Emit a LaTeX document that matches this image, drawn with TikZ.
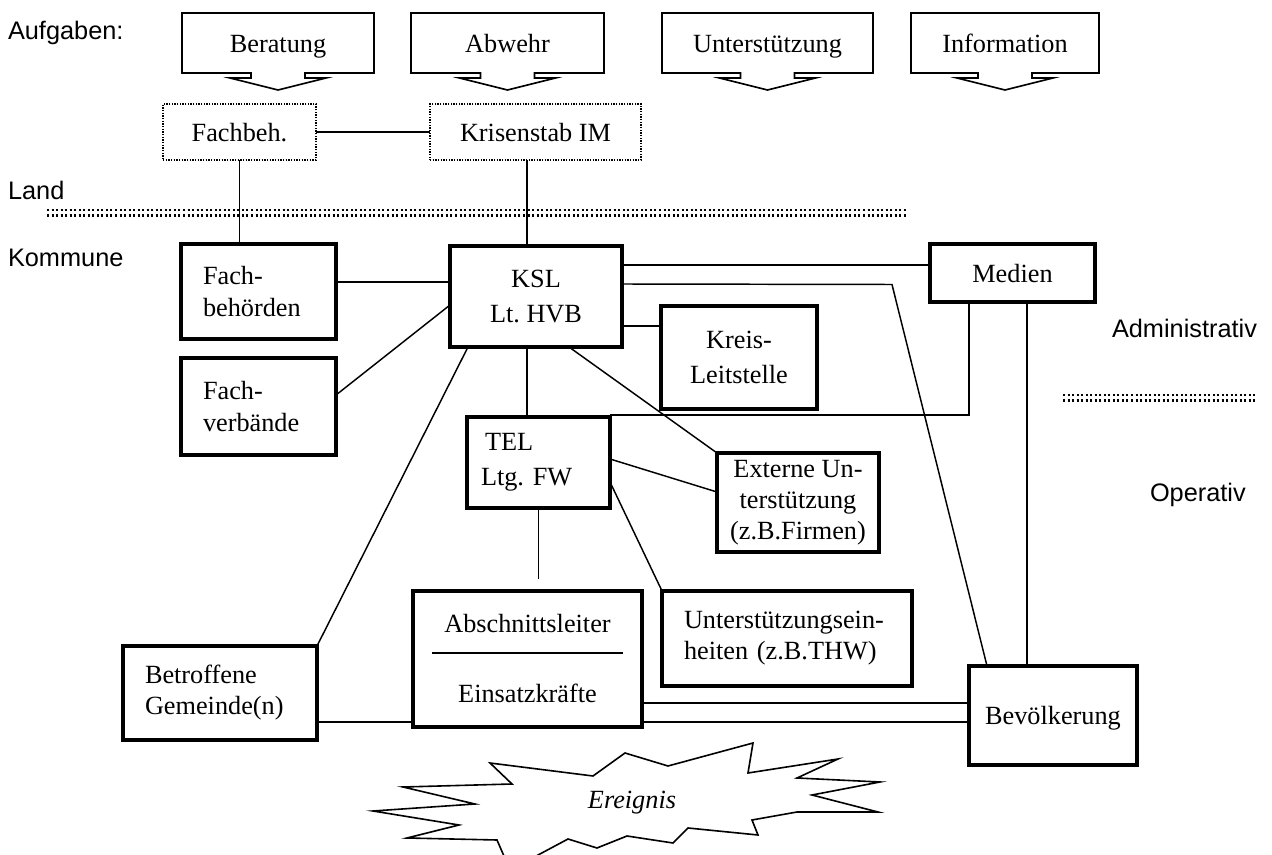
\documentclass[tikz,border=0pt]{standalone}
\usepackage{fontspec}
\setmainfont{Liberation Serif}
\setsansfont{Liberation Sans}
\usetikzlibrary{calc,backgrounds}
\frenchspacing
\begin{document}
\begin{tikzpicture}[x=0.75pt,y=-0.75pt,
  every node/.style={inner sep=0pt, outer sep=0pt},
  serif/.style={font=\fontsize{19.7}{23.3}\selectfont},
  one/.style={text height=14pt, text depth=0pt},
  lab/.style={font=\sffamily\fontsize{19}{22}\selectfont, anchor=west},
  box/.style={draw, line width=3pt, fill=white, serif, align=center},
  dotbox/.style={draw, line width=1.1pt, dash pattern=on 0.9pt off 1.1pt, serif, one},
  callout/.style={line width=1.2pt, line join=miter},
  conn/.style={line width=1.1pt},
  sepline/.style={line width=1.6pt, dash pattern=on 1.5pt off 1.9pt},
]
\useasboundingbox (0,0) rectangle (1272,855);
\clip (0,0) rectangle (1272,855);

% side labels
\node[lab] (aufg) at (8,33) {Aufgaben:};
\node[lab] (land) at (8,190) {Land};
\node[lab] (komm) at (8,258) {Kommune};
\node[lab, anchor=east] (admin) at (1257,328) {Administrativ};
\node[lab] (oper) at (1150,495) {Operativ};

% separators
\draw[sepline] (47,210) -- (908,210);
\draw[sepline] (47,215.5) -- (908,215.5);
\draw[sepline] (1063,395) -- (1255,395);
\draw[sepline] (1063,400.5) -- (1255,400.5);

% callouts
\node[serif, one, minimum width=144pt, minimum height=45pt] (ber) at (278,43) {Beratung};
\node[serif, one, minimum width=144.75pt, minimum height=45pt] (abw) at (507.5,43) {Abwehr};
\node[serif, one, minimum width=158.25pt, minimum height=45pt] (unt) at (767.5,43) {Unterstützung};
\node[serif, one, minimum width=141pt, minimum height=45pt] (inf) at (1005,43) {Information};
\foreach \n in {ber,abw,unt,inf}{
  \draw[callout] (\n.north west) -- (\n.north east) -- (\n.south east)
    -- ($(\n.south)+(27,0)$) -- ($(\n.south)+(27,5)$) -- ($(\n.south)+(48,5)$)
    -- ($(\n.south)+(0,17)$) -- ($(\n.south)+(-48,5)$) -- ($(\n.south)+(-27,5)$)
    -- ($(\n.south)+(-27,0)$) -- (\n.south west) -- cycle;
}

% Land level
\node[dotbox, minimum width=114.75pt, minimum height=42pt] (fbeh) at (239.5,132) {Fachbeh.};
\node[dotbox, minimum width=158.25pt, minimum height=42pt] (kris) at (535.5,132) {Krisenstab IM};

% Kommune boxes
\node[box, align=left, text width=83.25pt, inner xsep=16.5pt, minimum height=71.25pt] (fbh) at (258.5,291.5) {Fach-\\behörden};
\node[box, align=left, text width=83.25pt, inner xsep=16.5pt, minimum height=72.75pt] (fvb) at (258.5,406.5) {Fach-\\verbände};
\node[box, minimum width=129pt, minimum height=75.75pt, font=\fontsize{19.7}{26.25}\selectfont] (ksl) at (536,296.5) {KSL\\Lt. HVB};
\node[box, minimum width=117pt, minimum height=77.25pt, font=\fontsize{19.7}{26.25}\selectfont] (kls) at (739,357.5) {Kreis-\\Leitstelle};
\node[box, one, minimum width=123.75pt, minimum height=43.5pt] (med) at (1012.5,273) {Medien};
\node[box, align=left, text width=86.25pt, inner xsep=10.5pt, minimum height=68.25pt, font=\fontsize{19.7}{26.25}\selectfont] (tel) at (538.5,462.5) {\hspace*{3pt}TEL\\Ltg. FW};
\node[box, minimum width=121.5pt, minimum height=74.25pt] (ext) at (798,502.5) {Externe Un-\\terstützung\\(z.B.Firmen)};
\node[box, minimum width=171.75pt, minimum height=102pt, font=\fontsize{19.7}{52.5}\selectfont] (abs) at (527.5,659) {Abschnittsleiter\\Einsatzkräfte};
\node[box, align=left, text width=154.5pt, inner xsep=16.5pt, minimum height=71.25pt] (ueh) at (787,638.5) {Unterstützungsein-\\heiten (z.B.THW)};
\node[box, align=left, text width=112.5pt, inner xsep=16.5pt, minimum height=70.5pt] (bet) at (220,693) {Betroffene\\Gemeinde(n)};
\node[box, one, minimum width=126pt, minimum height=74.25pt] (bev) at (1053,715.5) {Bevölkerung};

% divider in Abschnitt box
\draw[conn] ($(abs.west)+(19,-6)$) -- ($(abs.east)+(-19,-6)$);

% connector end points
\coordinate (kr1) at ($(kris.south)+(-8.5,0)$);
\coordinate (fb1) at ($(fbh.east)+(0,-9.5)$);
\coordinate (fv1) at ($(fvb.east)+(0,-11.5)$);
\coordinate (ks1) at ($(ksl.west)+(0,8.5)$);
\coordinate (ks2) at ($(ksl.south west)+(18,0)$);
\coordinate (ks3) at ($(ksl.south)+(-9,0)$);
\coordinate (ks4) at ($(ksl.south)+(33,0)$);
\coordinate (ks5) at ($(ksl.east)+(0,29.5)$);
\coordinate (ks6) at ($(ksl.north east)+(0,19)$);
\coordinate (ks7) at ($(ksl.north east)+(0,38)$);
\coordinate (bend) at (892,284.5);
\coordinate (bv1) at ($(bev.north west)+(18,0)$);
\coordinate (md1) at ($(med.south west)+(39,0)$);
\coordinate (md2) at ($(med.south)+(14.5,0)$);
\coordinate (te1) at ($(tel.north east)+(0,-2)$);
\coordinate (te2) at ($(tel.north east)+(0,42)$);
\coordinate (te3) at ($(tel.north east)+(0,65)$);
\coordinate (te4) at ($(tel.south)+(0,71)$);
\coordinate (ex1) at ($(ext.west)+(0,-10.5)$);
\coordinate (ab1) at ($(abs.north east)+(0,112)$);
\coordinate (be1) at ($(bet.east)+(0,29)$);

\begin{scope}[on background layer]
\draw[conn] (fbeh.east) -- (kris.west);
\draw[conn] (fbeh.south) -- (fbeh.south |- fbh.north);
\draw[conn] (kr1) -- (kr1 |- ksl.north);
\draw[conn] (fb1) -- (fb1 -| ksl.west);
\draw[conn] (fv1) -- (ks1);
\draw[conn] (ks2) -- (bet.north east);
\draw[conn] (ks3) -- (ks3 |- tel.north);
\draw[conn] (ks4) -- (ext.north west);
\draw[conn] (ks5) -- (ks5 -| kls.west);
\draw[conn] (ks6) -- (ks6 -| med.west);
\draw[conn] (ks7) -- (bend) -- (bv1);
\draw[conn] (md1) |- (te1);
\draw[conn] (md2) -- (md2 |- bev.north);
\draw[conn] (te2) -- (ex1);
\draw[conn] (tel.south) -- (te4);
\draw[conn] (te3) -- (ueh.north west);
\draw[conn] (ab1) -- (ab1 -| bev.west);
\draw[conn] (be1) -- (be1 -| bev.west);
\end{scope}

% Ereignis burst
\draw[line width=1.2pt, line join=miter, miter limit=20] (490,763) -- (593,776) -- (625,753) -- (668,766) -- (753,743) -- (748,773)
  -- (838,759) -- (797,778) -- (880,782) -- (812,795) -- (878,812) -- (797,812)
  -- (752,820) -- (758,835) -- (688,828) -- (673,843) -- (627,836) -- (597,848)
  -- (568,839) -- (510,870) -- (497,840) -- (407,838) -- (459,825) -- (373,811)
  -- (475,804) -- (403,787) -- (512,784) -- cycle;
\node[font=\itshape\fontsize{19.7}{23}\selectfont] (ereig) at (632,803) {Ereignis};
\end{tikzpicture}
\end{document}
